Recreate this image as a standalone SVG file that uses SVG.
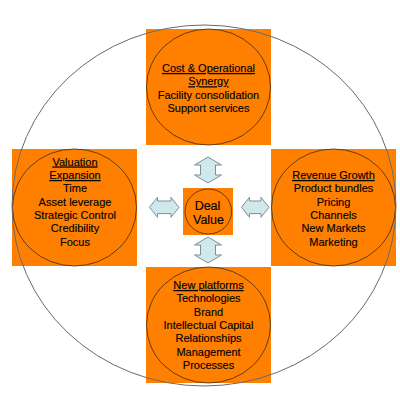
<svg xmlns="http://www.w3.org/2000/svg" width="400" height="400" viewBox="0 0 400 400">
<style>
.box{fill:#ff8000;stroke:none}
.inner{fill:none;stroke:#3a2a1a;stroke-width:0.8}
.t{font-family:"Liberation Sans",Arial,sans-serif;font-size:11px;fill:#000;text-anchor:middle;stroke:#000;stroke-width:0.15}
.u{text-decoration:underline}
.arr{fill:#cfe8ec;stroke:#7f8f92;stroke-width:1}
</style>
<rect x="0" y="0" width="400" height="400" fill="#fff"/>
<g id="cost">
<rect class="box" x="146" y="29" width="125" height="116"/>
<ellipse class="inner" cx="208.5" cy="87" rx="62" ry="58"/>
<text class="t" x="208.5" y="72"><tspan class="u">Cost &amp; Operational</tspan></text>
<text class="t" x="208.5" y="85.3"><tspan class="u">Synergy</tspan></text>
<text class="t" x="208.5" y="98.7">Facility consolidation</text>
<text class="t" x="208.5" y="112">Support services</text>
</g>
<g id="valuation">
<rect class="box" x="12" y="149" width="125" height="117"/>
<ellipse class="inner" cx="74.5" cy="207.5" rx="62" ry="58.5"/>
<text class="t" x="75" y="165.5"><tspan class="u">Valuation</tspan></text>
<text class="t" x="75" y="179"><tspan class="u">Expansion</tspan></text>
<text class="t" x="75" y="192.3">Time</text>
<text class="t" x="75" y="205.7">Asset leverage</text>
<text class="t" x="75" y="219">Strategic Control</text>
<text class="t" x="75" y="232.3">Credibility</text>
<text class="t" x="75" y="245.7">Focus</text>
</g>
<g id="revenue">
<rect class="box" x="271" y="149" width="125" height="117"/>
<ellipse class="inner" cx="333.5" cy="207.5" rx="62" ry="58.5"/>
<text class="t" x="333.5" y="179"><tspan class="u">Revenue Growth</tspan></text>
<text class="t" x="333.5" y="192.3">Product bundles</text>
<text class="t" x="333.5" y="205.7">Pricing</text>
<text class="t" x="333.5" y="219">Channels</text>
<text class="t" x="333.5" y="232.3">New Markets</text>
<text class="t" x="333.5" y="245.7">Marketing</text>
</g>
<g id="platforms">
<rect class="box" x="146" y="267" width="125" height="116"/>
<ellipse class="inner" cx="208.5" cy="325" rx="62" ry="58"/>
<text class="t" x="208.5" y="289"><tspan class="u">New platforms</tspan></text>
<text class="t" x="208.5" y="302.3">Technologies</text>
<text class="t" x="208.5" y="315.7">Brand</text>
<text class="t" x="208.5" y="329">Intellectual Capital</text>
<text class="t" x="208.5" y="342.3">Relationships</text>
<text class="t" x="208.5" y="355.7">Management</text>
<text class="t" x="208.5" y="369">Processes</text>
</g>
<g id="deal">
<rect class="box" x="183" y="188" width="50" height="47"/>
<ellipse class="inner" cx="208.3" cy="211.5" rx="23.3" ry="22.5"/>
<text class="t" style="font-size:12.5px" x="207.5" y="209.5">Deal</text>
<text class="t" style="font-size:12.5px" x="208.5" y="223.5">Value</text>
</g>
<g id="connectors">
<polygon class="arr" points="208,157 221.5,165 215.5,165 215.5,175 221.5,175 208,183 194.5,175 200.5,175 200.5,165 194.5,165"/>
<polygon class="arr" points="208,237 221.5,245 215.5,245 215.5,255 221.5,255 208,263 194.5,255 200.5,255 200.5,245 194.5,245"/>
<polygon class="arr" points="149.5,207.3 157.5,197.3 157.5,201 171,201 171,197.3 179,207.3 171,217.3 171,213.6 157.5,213.6 157.5,217.3"/>
<polygon class="arr" points="241.5,207.3 249.5,197.3 249.5,201 261,201 261,197.3 269,207.3 261,217.3 261,213.6 249.5,213.6 249.5,217.3"/>
</g>
<ellipse cx="204" cy="205.5" rx="192" ry="180.5" fill="none" stroke="#6a6a6a" stroke-width="1"/>
</svg>
